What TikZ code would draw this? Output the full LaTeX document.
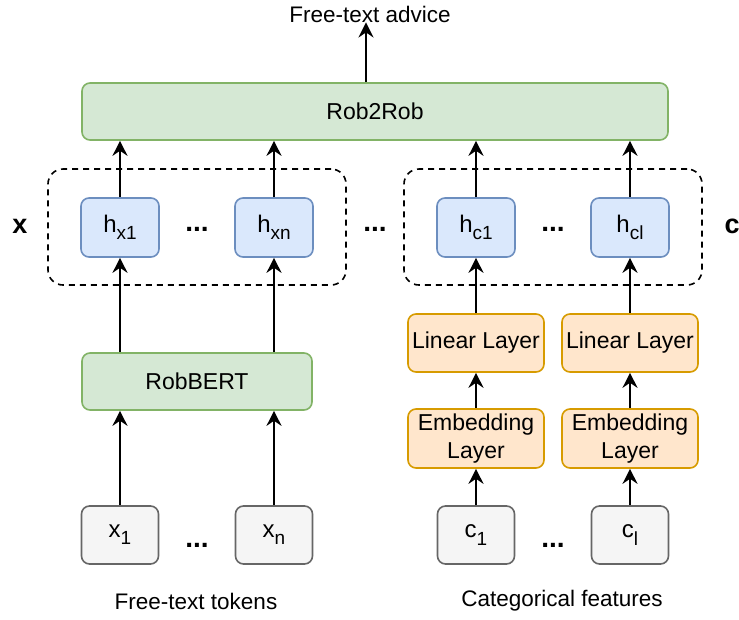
\documentclass[tikz,border=0pt]{standalone}
\usepackage{fontspec}
\setmainfont{Liberation Sans}
\usetikzlibrary{arrows.meta}
\newcommand{\mysub}[1]{\raisebox{-0.3em}{\fontsize{19}{19}\selectfont #1}}
\definecolor{gfill}{HTML}{D5E8D4}\definecolor{gline}{HTML}{82B366}
\definecolor{bfill}{HTML}{DAE8FC}\definecolor{bline}{HTML}{6C8EBF}
\definecolor{ofill}{HTML}{FFE6CC}\definecolor{oline}{HTML}{D79B00}
\definecolor{yfill}{HTML}{F5F5F5}\definecolor{yline}{HTML}{666666}
\tikzset{
  box/.style={draw, line width=1.6pt, rounded corners=8pt, inner sep=0pt, align=center, font=\fontsize{23}{28}\selectfont},
  greenbox/.style={box, fill=gfill, draw=gline},
  bluebox/.style={box, fill=bfill, draw=bline, minimum width=78pt, minimum height=59pt, font=\fontsize{24}{28}\selectfont},
  orangebox/.style={box, fill=ofill, draw=oline, minimum width=136pt},
  graybox/.style={box, fill=yfill, draw=yline, minimum width=77pt, minimum height=58pt, font=\fontsize{24}{28}\selectfont},
  groupbox/.style={draw, line width=1.6pt, dash pattern=on 6pt off 5pt, rounded corners=15pt, minimum width=298pt, minimum height=116pt, inner sep=0pt},
  arr/.style={line width=1.8pt, -{Stealth[length=15pt, width=15pt, inset=5pt]}},
  dots/.style={inner sep=0pt, anchor=base, font=\fontsize{28}{28}\selectfont\bfseries},
  lbl/.style={inner sep=0pt, font=\fontsize{22.5}{26}\selectfont},
}
\begin{document}
\begin{tikzpicture}[x=1pt, y=-1pt]
\useasboundingbox (0,0) rectangle (739,619);
% top
\node[lbl] (adv) at (370,14) {Free-text advice};
\node[greenbox, minimum width=586pt, minimum height=57pt] (rob) at (375,111.5) {Rob2Rob};
% groups
\node[groupbox] (gx) at (197,227) {};
\node[groupbox] (gc) at (553,227) {};
\node[bluebox] (hx1) at (120,227.5) {h\mysub{x1}};
\node[bluebox] (hxn) at (274,227.5) {h\mysub{xn}};
\node[bluebox] (hc1) at (476,227.5) {h\mysub{c1}};
\node[bluebox] (hcl) at (630,227.5) {h\mysub{cl}};
\node[inner sep=0pt, font=\fontsize{27}{27}\selectfont\bfseries] (lx) at (20,226) {x};
\node[inner sep=0pt, font=\fontsize{27}{27}\selectfont\bfseries] (lc) at (732,226) {c};
\node[dots] (d1) at (197,231) {...};
\node[dots] (d2) at (375,231) {...};
\node[dots] (d3) at (553,231) {...};
% middle
\node[greenbox, minimum width=230pt, minimum height=57pt] (robbert) at (197,381.5) {RobBERT};
\node[orangebox, minimum height=58pt] (lin1) at (476,343) {Linear Layer};
\node[orangebox, minimum height=58pt] (lin2) at (630,343) {Linear Layer};
\node[orangebox, minimum height=59pt] (emb1) at (476,438.5) {Embedding\\Layer};
\node[orangebox, minimum height=59pt] (emb2) at (630,438.5) {Embedding\\Layer};
% bottom
\node[graybox] (x1) at (120,535) {x\mysub{1}};
\node[graybox] (xn) at (274,535) {x\mysub{n}};
\node[graybox] (c1) at (476,535) {c\mysub{1}};
\node[graybox] (cl) at (630,535) {c\mysub{l}};
\node[dots] (d4) at (197,547) {...};
\node[dots] (d5) at (553,547) {...};
\node[lbl] (ft) at (196,601) {Free-text tokens};
\node[lbl] (cf) at (562,601) {Categorical features};
% arrows
\draw[arr] ([xshift=-9pt]rob.north) -- ([xshift=-4pt]adv.south);
\foreach \h in {hx1,hxn,hc1,hcl} \draw[arr] (\h.north) -- (\h.north |- rob.south);
\foreach \h in {hx1,hxn} \draw[arr] (\h.south |- robbert.north) -- (\h.south);
\foreach \t in {x1,xn} \draw[arr] (\t.north) -- (\t.north |- robbert.south);
\draw[arr] (c1.north) -- (emb1.south);
\draw[arr] (cl.north) -- (emb2.south);
\draw[arr] (emb1.north) -- (lin1.south);
\draw[arr] (emb2.north) -- (lin2.south);
\draw[arr] (lin1.north) -- (hc1.south);
\draw[arr] (lin2.north) -- (hcl.south);
\end{tikzpicture}
\end{document}
